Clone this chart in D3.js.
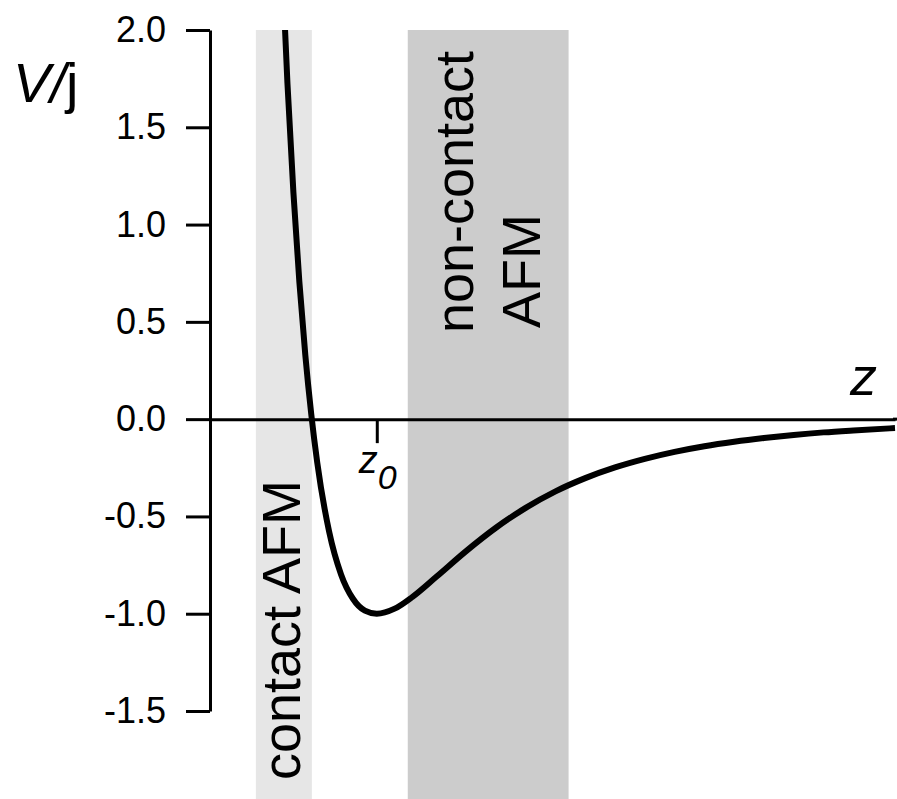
<!DOCTYPE html>
<html>
<head>
<meta charset="utf-8">
<script src="https://cdn.jsdelivr.net/npm/d3@7"></script>
<style>
  body { margin: 0; background: #fff; }
  svg { display: block; }
  text { font-family: "Liberation Sans", Arial, Helvetica, sans-serif; fill: #000; }
  .axis path, .axis line { stroke: #000; stroke-width: 3; }
  .axis text { font-size: 36px; font-family: "Liberation Sans", Arial, sans-serif; fill: #000; }
</style>
</head>
<body>
<div id="chart"></div>
<script>
// separation z in units of z0, potential V in units of j
const zValues = [0.84, 0.85, 0.86, 0.87, 0.88, 0.89, 0.90, 0.92, 0.94, 0.96, 0.98, 1.00,
  1.03, 1.06, 1.10, 1.15, 1.20, 1.25, 1.30, 1.35, 1.40, 1.45, 1.50, 1.55, 1.60, 1.65,
  1.70, 1.75, 1.80, 1.87];
const vValues = [2.41, 1.727, 1.166, 0.706, 0.330, 0.025, -0.222, -0.578, -0.798, -0.923, -0.984, -1.0,
  -0.974, -0.913, -0.810, -0.678, -0.558, -0.456, -0.371, -0.303, -0.248, -0.204, -0.168, -0.139, -0.116, -0.097,
  -0.081, -0.068, -0.058, -0.046];
const yTicks = [-1.5, -1.0, -0.5, 0.0, 0.5, 1.0, 1.5, 2.0];
const contactBand = [0.797, 0.891];
const nonContactBand = [1.052, 1.322];
const zMarks = [1.0];

const width = 897, height = 799;

const svg = d3.select('#chart').append('svg')
  .attr('width', width)
  .attr('height', height);

const xScale = d3.scaleLinear().domain([0.72, 1.87]).range([210, 895]);
const yScale = d3.scaleLinear().domain([-1.5, 2.0]).range([711, 30]);

// shaded regions
svg.append('rect')
  .attr('x', xScale(contactBand[0]))
  .attr('y', yScale(2.0))
  .attr('width', xScale(contactBand[1]) - xScale(contactBand[0]))
  .attr('height', height - yScale(2.0))
  .attr('fill', '#e6e6e6');

svg.append('rect')
  .attr('x', xScale(nonContactBand[0]))
  .attr('y', yScale(2.0))
  .attr('width', xScale(nonContactBand[1]) - xScale(nonContactBand[0]))
  .attr('height', height - yScale(2.0))
  .attr('fill', '#cccccc');

// band labels
svg.append('text')
  .attr('transform', 'translate(300,630) rotate(-90)')
  .attr('text-anchor', 'middle')
  .style('font-size', '54px')
  .text('contact AFM');

svg.append('text')
  .attr('transform', 'translate(473,192) rotate(-90)')
  .attr('text-anchor', 'middle')
  .style('font-size', '54px')
  .text('non-contact');

svg.append('text')
  .attr('transform', 'translate(540,271) rotate(-90)')
  .attr('text-anchor', 'middle')
  .style('font-size', '54px')
  .text('AFM');

// y axis
const yAxis = d3.axisLeft(yScale)
  .tickValues(yTicks)
  .tickSize(24)
  .tickSizeOuter(0)
  .tickPadding(20)
  .tickFormat((d) => { return d.toFixed(1) });

svg.append('g')
  .attr('class', 'axis y-axis')
  .attr('transform', 'translate(210,0)')
  .call(yAxis);

// zero line with z0 mark
const xAxis = d3.axisBottom(xScale)
  .tickValues(zMarks)
  .tickSize(24)
  .tickSizeOuter(0)
  .tickFormat('');

svg.append('g')
  .attr('class', 'axis x-axis')
  .attr('transform', `translate(0, ${ yScale(0) })`)
  .call(xAxis);

svg.append('line')
  .attr('x1', 893).attr('x2', width)
  .attr('y1', yScale(0)).attr('y2', yScale(0))
  .attr('stroke', '#000').attr('stroke-width', 3);

const z0Label = svg.append('text')
  .attr('x', xScale(1.0) - 18)
  .attr('y', yScale(0) + 54)
  .style('font-size', '38px')
  .style('font-style', 'italic');
z0Label.append('tspan').text('z');
z0Label.append('tspan').attr('dy', 16).style('font-size', '34px').text('0');

// axis titles
const vLabel = svg.append('text')
  .attr('x', 13)
  .attr('y', 102)
  .style('font-size', '56px');
vLabel.append('tspan').style('font-style', 'italic').text('V/');
vLabel.append('tspan').text('j');

svg.append('text')
  .attr('x', 850)
  .attr('y', 395)
  .style('font-size', '54px')
  .style('font-style', 'italic')
  .text('z');

// potential curve
svg.append('clipPath').attr('id', 'plot-clip')
  .append('rect')
    .attr('x', 0)
    .attr('y', yScale(2.0))
    .attr('width', width)
    .attr('height', height - yScale(2.0));

const curveData = zValues.map((z, i) => { return { z: z, v: vValues[i] } });

const line = d3.line()
  .x((d) => { return xScale(d.z) })
  .y((d) => { return yScale(d.v) })
  .curve(d3.curveMonotoneX);

svg.append('path')
  .datum(curveData)
  .attr('clip-path', 'url(#plot-clip)')
  .attr('d', line)
  .attr('fill', 'none')
  .attr('stroke', '#000')
  .attr('stroke-width', 6)
  .attr('stroke-linejoin', 'round');
</script>
</body>
</html>
